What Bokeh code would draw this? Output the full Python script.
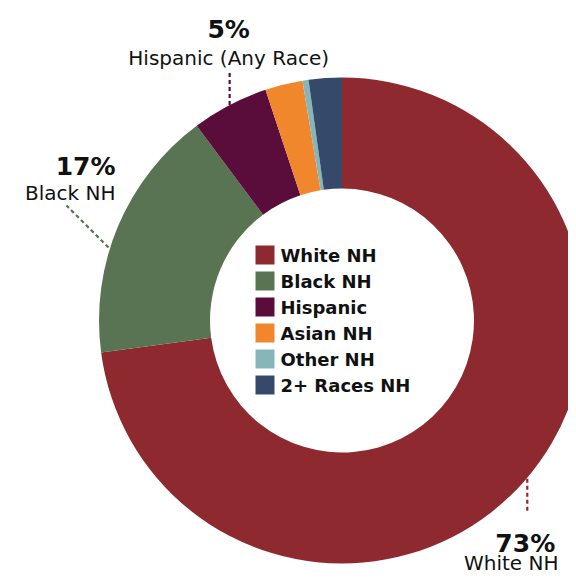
import math
from bokeh.plotting import figure
from bokeh.models import Range1d, ColumnDataSource
from bokeh.core.properties import value
from bokeh.embed import file_html
from bokeh.resources import INLINE

# ---- data ----
categories = ["White NH", "Black NH", "Hispanic", "Asian NH", "Other NH", "2+ Races NH"]
shares = [72.9, 16.9, 5.1, 2.5, 0.4, 2.2]
colors = ["#8E2930", "#587453", "#5A0C3A", "#F0872C", "#86B6B8", "#354A6A"]
callout_names = ["White NH", "Black NH", "Hispanic (Any Race)"]
callout_index = [0, 1, 2]

# ---- layout (pixel-like coordinates, y up: data_y = 583 - page_y) ----
W, H = 568, 575
FONT = "DejaVu Sans"
cx, cy = 341.5, 263.0
r_out, r_in = 243.0, 132.0

p = figure(width=W, height=H, x_range=Range1d(0, 568), y_range=Range1d(8, 583),
           output_backend="svg", toolbar_location=None, min_border=0)
p.axis.visible = False
p.grid.visible = False
p.outline_line_color = None
p.background_fill_color = "white"
p.border_fill_color = "white"

total = sum(shares)
starts, ends, cum = [], [], 0.0
mids = []
for s in shares:
    a0 = cum / total * 2 * math.pi
    cum += s
    a1 = cum / total * 2 * math.pi
    # clockwise from top -> bokeh anticlockwise from +x
    starts.append(math.pi / 2 - a1)
    ends.append(math.pi / 2 - a0)
    mids.append((a0 + a1) / 2)

src = ColumnDataSource(dict(start=starts, end=ends, color=colors, cat=categories))
p.annular_wedge(x=cx, y=cy, inner_radius=r_in, outer_radius=r_out,
                start_angle="start", end_angle="end", fill_color="color",
                line_color=None, source=src)

# ---- legend in the hole ----
leg_x, leg_y0, leg_dy = 264.5, 583 - 254.5, 26
sq_x = [leg_x] * len(categories)
sq_y = [leg_y0 - i * leg_dy for i in range(len(categories))]
p.rect(x=sq_x, y=sq_y, width=19, height=19, fill_color=colors, line_color=None)
p.text(x=[leg_x + 15.5] * len(categories), y=[y - 0.5 for y in sq_y], text=categories,
       text_font=value(FONT), text_font_style="bold", text_font_size="18px",
       text_baseline="middle", text_align="left", text_color="#111111")

# ---- callouts ----
def edge_point(theta, r):
    return cx + r * math.sin(theta), cy + r * math.cos(theta)

# White NH: vertical leader down from outer edge at mid-angle
wx, wy = edge_point(mids[0], r_out)
wx += 2.5
p.line([wx, wx], [wy + 2, wy - 33], line_color=colors[0], line_width=2.2, line_dash="4 3")
# Hispanic: vertical leader up from outer edge at mid-angle
hx, hy = edge_point(mids[2], r_out)
p.line([hx, hx], [hy, hy + 34], line_color=colors[2], line_width=2.2, line_dash="4 3")
# Black NH: diagonal leader
bx, by = 108, 583 - 247
p.line([bx, bx - 42], [by, by + 42], line_color=colors[1], line_width=2.2, line_dash="4 3")

pct = [f"{round(shares[i])}%" for i in callout_index]
lab_pct_x = [wx - 2, 115, hx - 1]
lab_name_x = [wx - 16, 115, hx - 1]
lab_pct_y = [583 - 543, 583 - 166, 583 - 29]
lab_name_y = [583 - 562, 583 - 192, 583 - 57]
aligns = ["center", "right", "center"]
p.text(x=lab_pct_x, y=lab_pct_y, text=pct, text_font=value(FONT), text_font_style="bold",
       text_font_size="25px", text_align=aligns, text_baseline="alphabetic", text_color="#111111")
p.text(x=lab_name_x, y=lab_name_y, text=callout_names, text_font=value(FONT),
       text_font_size="20px", text_align=aligns, text_baseline="alphabetic", text_color="#111111")

open("out.html", "w").write(file_html(p, INLINE))
